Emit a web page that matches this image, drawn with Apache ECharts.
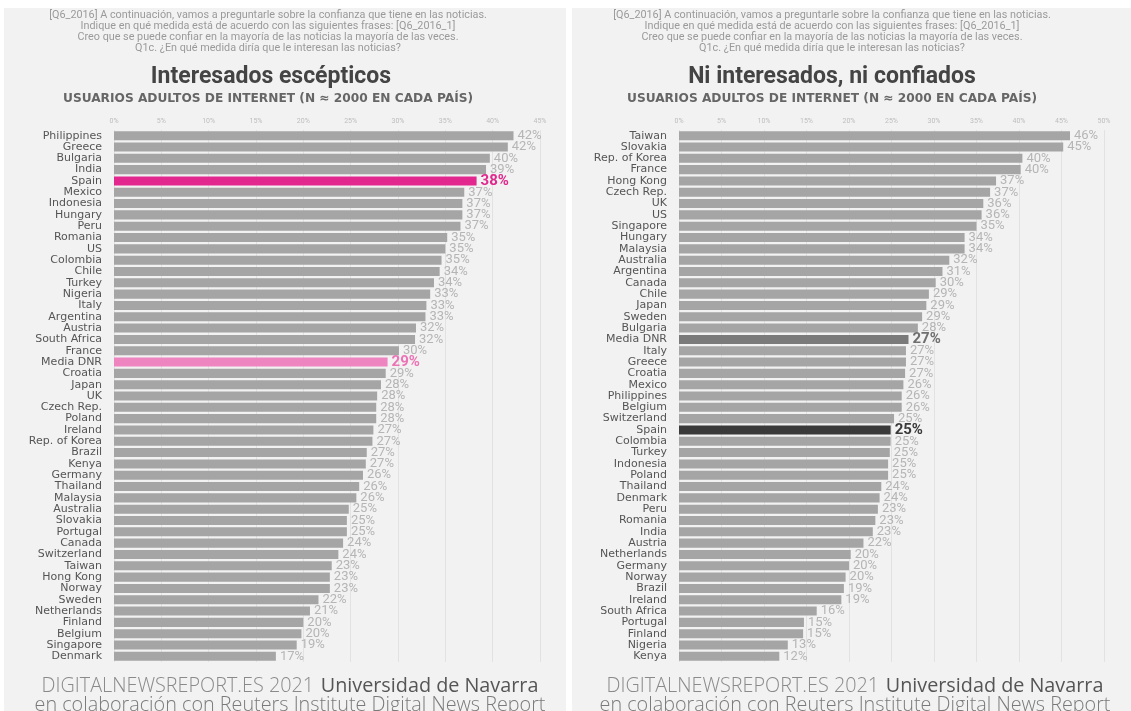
<!DOCTYPE html>
<html>
<head>
<meta charset="utf-8">
<script src="https://cdn.jsdelivr.net/npm/echarts@6/dist/echarts.min.js"></script>
<style>
html,body{margin:0;padding:0;background:#ffffff;}
#chart{width:1131px;height:711px;}
</style>
</head>
<body>
<div id="chart"></div>
<script>
// ---- Data ----
var leftCountries = ["Philippines","Greece","Bulgaria","India","Spain","Mexico","Indonesia","Hungary","Peru","Romania","US","Colombia","Chile","Turkey","Nigeria","Italy","Argentina","Austria","South Africa","France","Media DNR","Croatia","Japan","UK","Czech Rep.","Poland","Ireland","Rep. of Korea","Brazil","Kenya","Germany","Thailand","Malaysia","Australia","Slovakia","Portugal","Canada","Switzerland","Taiwan","Hong Kong","Norway","Sweden","Netherlands","Finland","Belgium","Singapore","Denmark"];
var leftValues = [42.2,41.6,39.7,39.3,38.3,37.0,36.8,36.8,36.6,35.2,35.0,34.6,34.4,33.8,33.4,33.0,32.9,31.9,31.8,30.1,28.9,28.7,28.2,27.8,27.7,27.7,27.4,27.3,26.7,26.6,26.3,25.9,25.6,24.8,24.6,24.6,24.2,23.7,23.0,22.8,22.8,21.6,20.7,20.0,19.8,19.3,17.1];
var rightCountries = ["Taiwan","Slovakia","Rep. of Korea","France","Hong Kong","Czech Rep.","UK","US","Singapore","Hungary","Malaysia","Australia","Argentina","Canada","Chile","Japan","Sweden","Bulgaria","Media DNR","Italy","Greece","Croatia","Mexico","Philippines","Belgium","Switzerland","Spain","Colombia","Turkey","Indonesia","Poland","Thailand","Denmark","Peru","Romania","India","Austria","Netherlands","Germany","Norway","Brazil","Ireland","South Africa","Portugal","Finland","Nigeria","Kenya"];
var rightValues = [46.0,45.2,40.4,40.2,37.3,36.6,35.8,35.6,35.0,33.6,33.6,31.8,31.0,30.2,29.4,29.1,28.6,28.1,27.0,26.7,26.7,26.6,26.4,26.2,26.2,25.3,24.9,24.9,24.8,24.6,24.6,23.8,23.6,23.4,23.1,22.8,21.7,20.2,20.0,19.6,19.4,19.1,16.2,14.7,14.6,12.8,11.8];
var leftMax = 45, rightMax = 50;

var questionText = "[Q6_2016] A continuación, vamos a preguntarle sobre la confianza que tiene en las noticias.\nIndique en qué medida está de acuerdo con las siguientes frases: [Q6_2016_1]\nCreo que se puede confiar en la mayoría de las noticias la mayoría de las veces.\nQ1c. ¿En qué medida diría que le interesan las noticias?";
var leftTitle = "Interesados escépticos";
var rightTitle = "Ni interesados, ni confiados";
var subTitle = "USUARIOS ADULTOS DE INTERNET (N ≈ 2000 EN CADA PAÍS)";
var footerLine1a = "DIGITALNEWSREPORT.ES 2021";
var footerLine1b = "Universidad de Navarra";
var footerLine2 = "en colaboración con Reuters Institute Digital News Report";

// ---- Styles ----
var BAR = '#a5a5a5';
var leftHighlights = {
  "Spain": {bar:'#e2288e', label:'#e0288d'},
  "Media DNR": {bar:'#ee84c0', label:'#ec74b6'}
};
var rightHighlights = {
  "Media DNR": {bar:'#7a7a7a', label:'#6f6f6f'},
  "Spain": {bar:'#3a3a3a', label:'#3a3a3a'}
};

function buildData(countries, values, hl) {
  return values.map(function (v, i) {
    var h = hl[countries[i]];
    var d = {value: v};
    if (h) {
      d.itemStyle = {color: h.bar};
      d.label = {color: h.label, fontWeight: 'bold', fontSize: 15};
    }
    return d;
  });
}

var chart = echarts.init(document.getElementById('chart'), null, {renderer: 'canvas'});

function xAxisCfg(gi, max) {
  return {
    type: 'value', gridIndex: gi, min: 0, max: max, interval: 5, position: 'top',
    axisLine: {show: false}, axisTick: {show: false},
    axisLabel: {formatter: '{value}%', fontSize: 7, color: '#bdbdbd', margin: 5, fontFamily: 'Roboto'},
    splitLine: {show: true, lineStyle: {color: '#e2e2e2', width: 1}}
  };
}
function yAxisCfg(gi, cats) {
  return {
    type: 'category', gridIndex: gi, data: cats, inverse: true,
    axisLine: {show: false}, axisTick: {show: false},
    axisLabel: {interval: 0, color: '#555555', fontSize: 11, fontFamily: 'DejaVu Sans', margin: 12}
  };
}
function seriesCfg(idx, countries, values, hl) {
  return {
    type: 'bar', xAxisIndex: idx, yAxisIndex: idx,
    data: buildData(countries, values, hl),
    barCategoryGap: '20%',
    itemStyle: {color: BAR},
    label: {
      show: true, position: 'right', distance: 4,
      formatter: function (p) { return Math.round(p.value) + '%'; },
      color: '#b5b5b5', fontSize: 13, fontFamily: 'Roboto'
    },
    silent: true, animation: false
  };
}

var footerRich = {
  a: {fill: '#8a8a8a', fontSize: 19.8, fontFamily: 'Open Sans', fontWeight: 300, lineHeight: 19},
  b: {fill: '#555555', fontSize: 19.8, fontFamily: 'Open Sans', fontWeight: 500, lineHeight: 19},
  c: {fill: '#7a7a7a', fontSize: 19.8, fontFamily: 'Open Sans', fontWeight: 300, lineHeight: 19}
};
var footerText = '{a|' + footerLine1a + '}  {b|' + footerLine1b + '}\n{c|' + footerLine2 + '}';

var option = {
  backgroundColor: '#ffffff',
  animation: false,
  grid: [
    {left: 114, width: 426, top: 130, height: 532},
    {left: 679, width: 425, top: 130, height: 532}
  ],
  xAxis: [xAxisCfg(0, leftMax), xAxisCfg(1, rightMax)],
  yAxis: [yAxisCfg(0, leftCountries), yAxisCfg(1, rightCountries)],
  series: [
    seriesCfg(0, leftCountries, leftValues, leftHighlights),
    seriesCfg(1, rightCountries, rightValues, rightHighlights)
  ],
  graphic: [
    {type: 'rect', shape: {x: 4, y: 8, width: 562, height: 703}, style: {fill: '#f2f2f2'}, z: -10, silent: true},
    {type: 'rect', shape: {x: 572, y: 8, width: 559, height: 703}, style: {fill: '#f2f2f2'}, z: -10, silent: true},
    {type: 'text', x: 268, y: 10, style: {text: questionText, textAlign: 'center', fill: '#9a9a9a', font: '10.8px Roboto', lineHeight: 11}},
    {type: 'text', x: 832, y: 10, style: {text: questionText, textAlign: 'center', fill: '#9a9a9a', font: '10.8px Roboto', lineHeight: 11}},
    {type: 'text', x: 271, y: 66, style: {text: leftTitle, textAlign: 'center', fill: '#444444', font: 'bold 23px Roboto'}},
    {type: 'text', x: 832, y: 66, style: {text: rightTitle, textAlign: 'center', fill: '#444444', font: 'bold 23px Roboto'}},
    {type: 'text', x: 268, y: 93, style: {text: subTitle, textAlign: 'center', fill: '#666666', font: 'bold 12.2px "DejaVu Sans"'}},
    {type: 'text', x: 832, y: 93, style: {text: subTitle, textAlign: 'center', fill: '#666666', font: 'bold 12.2px "DejaVu Sans"'}},
    {type: 'text', x: 290, y: 677, style: {text: footerText, textAlign: 'center', rich: footerRich}},
    {type: 'text', x: 855, y: 677, style: {text: footerText, textAlign: 'center', rich: footerRich}}
  ]
};
chart.setOption(option);
</script>
</body>
</html>
